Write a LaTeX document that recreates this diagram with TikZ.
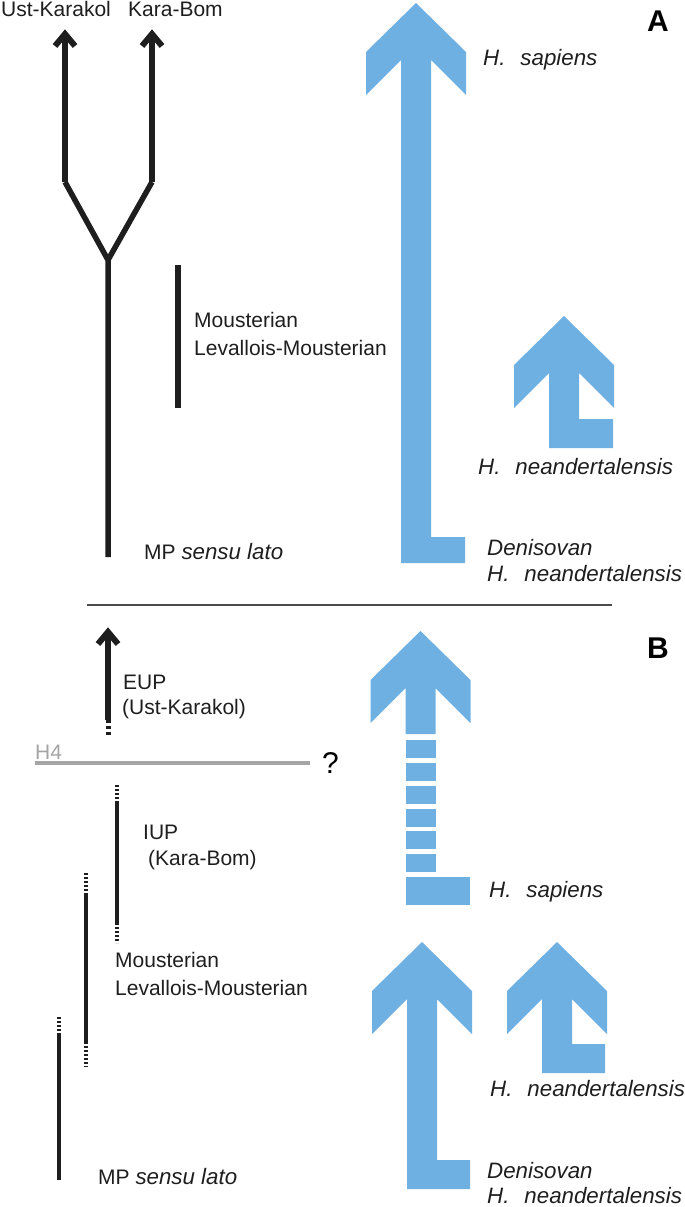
\documentclass[tikz,border=0pt]{standalone}
\usepackage{fontspec}
\setmainfont{Liberation Sans}
\definecolor{hblue}{RGB}{111,176,226}
\definecolor{ink}{RGB}{30,30,30}
\definecolor{hgray}{RGB}{165,165,165}
\newcommand\lblfont{\fontsize{21}{28}\selectfont}
\newcommand\itfont{\fontsize{22.3}{28}\selectfont\itshape}
\newcommand\Hgap{\hspace{15pt}}
\newcommand\blueArrow[5]{% cx, tip y, bottom y, foot top y, foot right x
  \fill[hblue] (#1,#2) -- ({#1-50},{#2+49}) -- ({#1-50},{#2+92}) -- ({#1-15},{#2+57})
    -- ({#1-15},#3) -- (#5,#3) -- (#5,#4) -- ({#1+15},#4) -- ({#1+15},{#2+57})
    -- ({#1+50},{#2+92}) -- ({#1+50},{#2+49}) -- cycle;}
% chevron arrow head at a named coordinate (tip)
\newcommand\chev[1]{%
  \draw[line width=6pt, draw=ink, line join=miter, miter limit=10]
    ([shift={(-10,17)}]#1) -- ([shift={(0,5)}]#1) -- ([shift={(10,17)}]#1);}
\tikzset{
  blk/.style={line width=5.5pt, draw=ink, line join=miter},
  bar/.style={line width=4.5pt, draw=ink},
  dsh/.style={line width=4.5pt, draw=ink, dash pattern=on 2pt off 2pt},
  lbl/.style={anchor=base west, inner sep=0pt, font=\lblfont, text=ink},
  ilbl/.style={anchor=base west, inner sep=0pt, font=\itfont, text=ink},
  panel/.style={anchor=base west, inner sep=0pt, font=\fontsize{30}{30}\selectfont\bfseries, text=black},
}
\begin{document}
\begin{tikzpicture}[x=1pt,y=-1pt]
\useasboundingbox (0,0) rectangle (685,1207);

% ---------------- Panel A ----------------
\coordinate (stemA) at (108,557);
\coordinate (fork) at (108,260);
\coordinate (ukA) at (65,182);
\coordinate (kbA) at (152,182);
\coordinate (ukTop) at (65,29);
\coordinate (kbTop) at (152,29);
\draw[blk] (stemA) -- (fork) -- (ukA);
\draw[blk] (fork) -- (kbA);
\draw[blk] (ukA) -- ([shift={(0,6)}]ukTop);
\draw[blk] (kbA) -- ([shift={(0,6)}]kbTop);
\chev{ukTop}
\chev{kbTop}
\node[lbl] (ukLbl) at (1,17) {Ust-Karakol};
\node[lbl] (kbLbl) at (128,17) {Kara-Bom};

\coordinate (mA1) at (178,265);
\coordinate (mA2) at (178,408);
\draw[blk] (mA1) -- (mA2);
\node[lbl] (mousA) at (194,327.5) {Mousterian};
\node[lbl] (levA) at (194,355.5) {Levallois-Mousterian};
\node[lbl] (mpA) at (144,559.5) {MP {\itfont sensu lato}};

\blueArrow{416}{3}{563}{537}{465}
\blueArrow{564}{316}{448}{419}{613}
\node[ilbl] (sapA) at (483,66) {H.\Hgap sapiens};
\node[ilbl] (neaA) at (478,474) {H.\Hgap neandertalensis};
\node[ilbl] (denA) at (487,555) {Denisovan};
\node[ilbl] (nea2A) at (487,581) {H.\Hgap neandertalensis};
\node[panel] (pA) at (647,32) {A};

% separator
\coordinate (sepL) at (87,605);
\coordinate (sepR) at (612,605);
\draw[line width=1.3pt, draw=ink!80] (sepL) -- (sepR);

% ---------------- Panel B ----------------
\node[panel] (pB) at (647,658) {B};

% EUP
\coordinate (eupD) at (108,735);
\coordinate (eupS) at (108,720);
\coordinate (eupT) at (108,627);
\draw[blk] (eupS) -- ([shift={(0,6)}]eupT);
\chev{eupT}
\draw[dsh,line width=5pt,dash pattern=on 3pt off 3pt] (eupS) -- (eupD);
\node[lbl] (eupL) at (123,689.5) {EUP};
\node[lbl] (eupL2) at (122,714.5) {(Ust-Karakol)};

% H4
\coordinate (h4L) at (35,763);
\coordinate (h4R) at (310,763);
\draw[line width=4pt, draw=hgray] (h4L) -- (h4R);
\node[lbl, text=hgray] (h4lbl) at (35,759) {H4};
\node[anchor=base west, inner sep=0pt, font=\fontsize{30}{30}\selectfont, text=black] (q) at (322,773) {?};

% IUP
\coordinate (iup0) at (117,785);
\coordinate (iup1) at (117,803);
\coordinate (iup2) at (117,923);
\coordinate (iup3) at (117,943);
\draw[dsh,line width=4pt] (iup0) -- (iup1);
\draw[bar,line width=4pt] (iup1) -- (iup2);
\draw[dsh,line width=4pt] (iup2) -- (iup3);
\node[lbl] (iupL) at (143,839.5) {IUP};
\node[lbl] (iupL2) at (148,865.5) {(Kara-Bom)};

% Mousterian B
\coordinate (mo0) at (86,873);
\coordinate (mo1) at (86,895);
\coordinate (mo2) at (86,1042);
\coordinate (mo3) at (86,1067);
\draw[dsh] (mo0) -- (mo1);
\draw[bar] (mo1) -- (mo2);
\draw[dsh] (mo2) -- (mo3);
\node[lbl] (mousB) at (115,967.5) {Mousterian};
\node[lbl] (levB) at (115,995.5) {Levallois-Mousterian};

% MP B
\coordinate (mp0) at (59,1017);
\coordinate (mp1) at (59,1033);
\coordinate (mp2) at (59,1180);
\draw[dsh] (mp0) -- (mp1);
\draw[bar] (mp1) -- (mp2);
\node[lbl] (mpB) at (98,1184.5) {MP {\itfont sensu lato}};

% dashed blue arrow
\fill[hblue] (420.5,631) -- (370.5,680) -- (370.5,723) -- (405.5,688) -- (405.5,734)
  -- (435.5,734) -- (435.5,688) -- (470.5,723) -- (470.5,680) -- cycle;
\foreach \y in {740,763,786,809,831,854}
  \fill[hblue] (405.5,\y) rectangle (435.5,\y+17.5);
\fill[hblue] (405.5,877) rectangle (470,905);
\node[ilbl] (sapB) at (489,897) {H.\Hgap sapiens};

\blueArrow{422}{942}{1189}{1160}{470}
\blueArrow{557}{942}{1073}{1044}{605}
\node[ilbl] (neaB) at (490,1096) {H.\Hgap neandertalensis};
\node[ilbl] (denB) at (487,1178) {Denisovan};
\node[ilbl] (nea2B) at (487,1203) {H.\Hgap neandertalensis};
\end{tikzpicture}
\end{document}
